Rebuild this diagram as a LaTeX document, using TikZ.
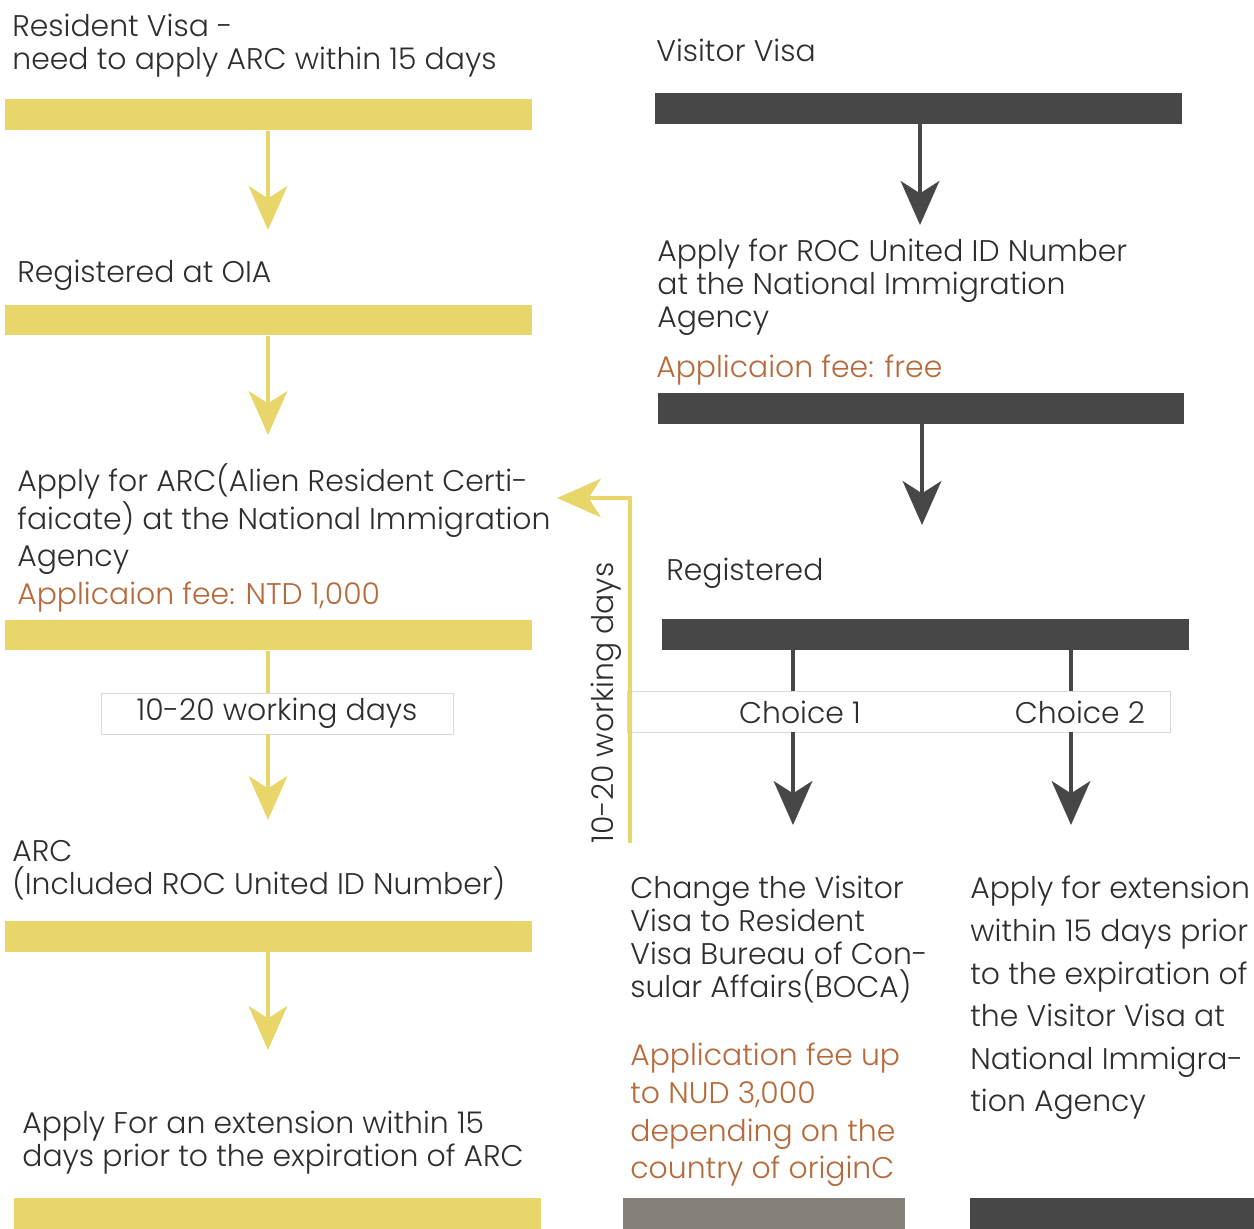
\documentclass[tikz,border=0pt]{standalone}
\usepackage{fontspec}
\setmainfont{Poppins}[UprightFont={* Light}]
\usetikzlibrary{arrows.meta,positioning}
\definecolor{barY}{HTML}{E9D66B}
\definecolor{barD}{HTML}{474747}
\definecolor{barG}{HTML}{858079}
\definecolor{feeC}{HTML}{B66A3B}
\definecolor{txtC}{HTML}{2E2E2E}
\tikzset{
  bar/.style={inner sep=0, minimum width=10.54cm, minimum height=0.62cm},
  ybar/.style={bar, fill=barY},
  dbar/.style={bar, fill=barD},
  txt/.style={inner sep=0, anchor=north west, align=left, text=txtC, font=\fontsize{17}{18.7}\selectfont},
  fee/.style={txt, text=feeC},
  lbox/.style={draw=black!15, fill=white, inner sep=0, minimum height=0.82cm, text=txtC, font=\fontsize{17}{18.7}\selectfont},
  yarr/.style={draw=barY, line width=2.3pt, -{Stealth[length=25pt, width=22pt, inset=7pt]}},
  darr/.style={draw=barD, line width=2.3pt, -{Stealth[length=25pt, width=22pt, inset=7pt]}},
  yline/.style={draw=barY, line width=2.3pt},
  dline/.style={draw=barD, line width=2.3pt}
}
\begin{document}
\begin{tikzpicture}[x=0.02cm, y=-0.02cm]
	\useasboundingbox (0,0) rectangle (1254,1229);
	% resident visa (left)
	\node[txt] (resv) at (12,14) {Resident Visa -\\need to apply ARC within 15 days};
	\node[ybar] (y1) at (268.5,115) {};
	\node[txt] (oia) at (17,260) {Registered at OIA};
	\node[ybar] (y2) at (268.5,320) {};
	\node[txt, font=\fontsize{17}{21.5}\selectfont] (arcapp) at (17,463) {Apply for ARC(Alien Resident Certi-\\faicate) at the National Immigration\\Agency\\\textcolor{feeC}{Applicaion fee: NTD 1,000}};
	\node[ybar] (y3) at (268.5,635) {};
	\node[lbox, minimum width=7.04cm] (wd) at (277,713.5) {10-20 working days};
	\node[txt] (arc) at (12,840) {ARC\\(Included ROC United ID Number)};
	\node[ybar] (y4) at (268.5,936) {};
	\node[txt] (ext) at (22,1111) {Apply For an extension within 15\\days prior to the expiration of ARC};
	\node[ybar] (y5) at (277.5,1213) {};
	\coordinate (t1) at (268,230);
	\coordinate (t2) at (268,435);
	\coordinate (t3) at (268,820);
	\coordinate (t4) at (268,1050);
	\draw[yarr] (y1.south -| t1) -- (t1);
	\draw[yarr] (y2.south -| t2) -- (t2);
	\draw[yline] (y3.south -| t3) -- (wd.north -| t3);
	\draw[yarr] (wd.south -| t3) -- (t3);
	\draw[yarr] (y4.south -| t4) -- (t4);
	% visitor visa (right)
	\node[txt] (vv) at (656,39) {Visitor Visa};
	\node[dbar] (d1) at (918.5,108.5) {};
	\node[txt] (roc) at (657,239) {Apply for ROC United ID Number\\at the National Immigration\\Agency};
	\node[fee] (rocfee) at (656,355) {Applicaion fee: free};
	\node[dbar] (d2) at (921,408.5) {};
	\node[txt] (reg) at (666,558) {Registered};
	\node[dbar] (d3) at (925.5,634.5) {};
	\node[lbox, minimum width=10.86cm] (ch) at (898.5,711.5) {};
	\node[text=txtC, font=\fontsize{17}{18.7}\selectfont, inner sep=0] (c1) at (800,712) {Choice 1};
	\node[text=txtC, font=\fontsize{17}{18.7}\selectfont, inner sep=0] (c2) at (1080,712) {Choice 2};
	\node[txt] (chg) at (630,876) {Change the Visitor\\Visa to Resident\\Visa Bureau of Con-\\sular Affairs(BOCA)};
	\node[fee, font=\fontsize{17}{21.4}\selectfont] (chgfee) at (630,1043) {Application fee up\\to NUD 3,000\\depending on the\\country of originC};
	\node[txt, font=\fontsize{17}{24.2}\selectfont] (extv) at (970,876) {Apply for extension\\within 15 days prior\\to the expiration of\\the Visitor Visa at\\National Immigra-\\tion Agency};
	\node[bar, fill=barG, minimum width=5.64cm] (g1) at (764,1213) {};
	\node[dbar, minimum width=5.68cm] (d4) at (1112,1213) {};
	\coordinate (r1) at (920,225);
	\coordinate (r2) at (922,525);
	\coordinate (k1) at (793,825);
	\coordinate (k2) at (1071,825);
	\draw[darr] (d1.south -| r1) -- (r1);
	\draw[darr] (d2.south -| r2) -- (r2);
	\draw[dline] (d3.south -| k1) -- (ch.north -| k1);
	\draw[darr] (ch.south -| k1) -- (k1);
	\draw[dline] (d3.south -| k2) -- (ch.north -| k2);
	\draw[darr] (ch.south -| k2) -- (k2);
	% registered -> ARC
	\coordinate (vb) at (630,843);
	\coordinate (vt) at (557,498);
	\draw[yarr] (vb) |- (vt);
	\node[rotate=90, inner sep=0, text=txtC, font=\fontsize{17}{18.7}\selectfont] (wdv) at (606,703) {10-20 working days};
\end{tikzpicture}
\end{document}
